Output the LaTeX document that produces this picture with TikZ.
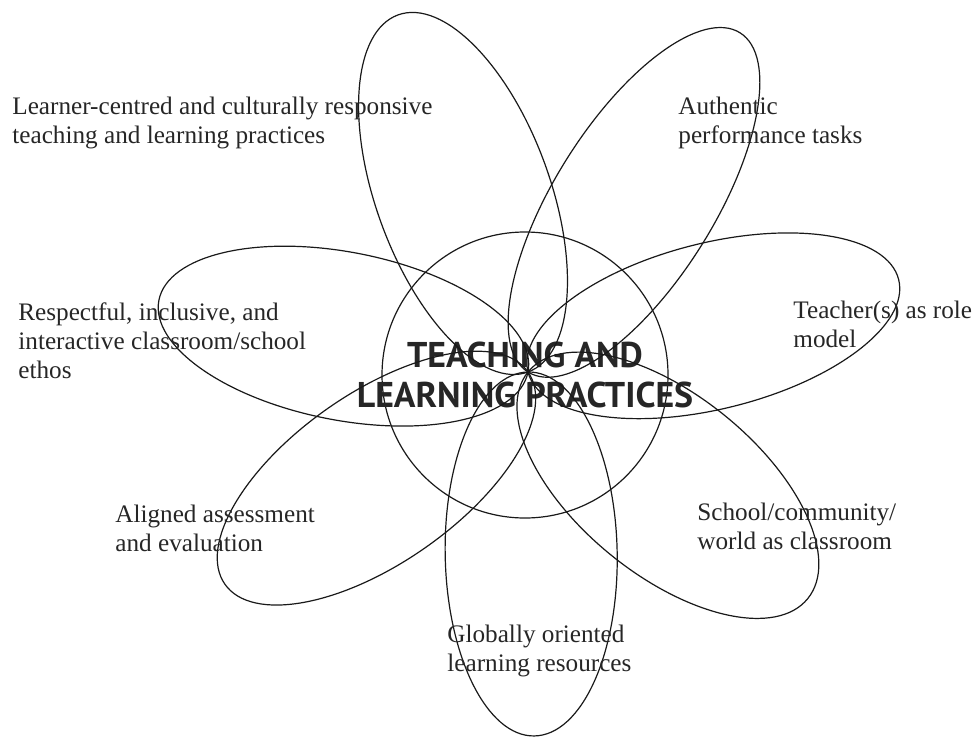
\documentclass[tikz,border=0pt]{standalone}
\usepackage{fontspec}
\setmainfont{Liberation Serif}
\newfontfamily\hubfont{PT Sans}
\usepackage{tikz}

\tikzset{
  petal/.style={draw=black!90, line width=.6pt},
  label/.style={anchor=base west, inner sep=0pt, align=left,
    text=black!85, font=\fontsize{12.6}{14.5}\selectfont},
}

\begin{document}
\begin{tikzpicture}[x=.5pt,y=.5pt]
\useasboundingbox (0,0) rectangle (972,740);
% where the petals meet
\coordinate (tip) at (528,368);
% centre circle and the title on it
\node [circle, petal, minimum size=143pt, inner sep=0pt] (hub) at (525,365) {};
\node [align=center, inner sep=0pt, text=black!85,
  font=\hubfont\bfseries\fontsize{17.9}{20}\selectfont]
  (title) at (hub.center) {TEACHING AND\\LEARNING PRACTICES};
% petals: direction / half length / half width
\foreach \ang/\len/\wid in {110/190/87, 58/200/80, 14/191/83, -39/180/90,
  -89/182/86, -145/185/85, 169/188/84}
  \draw [petal] (tip) ++(\ang:\len) circle [x radius=\len, y radius=\wid, rotate=\ang];
% petal labels (placed at the baseline of their last line)
\node [label] (learner) at (12,596) {Learner-centred and culturally responsive\\teaching and learning practices};
\node [label] (authentic) at (678,596) {Authentic\\performance tasks};
\node [label] (ethos) at (18,362) {Respectful, inclusive, and\\interactive classroom/school\\ethos};
\node [label] (rolemodel) at (793,393) {Teacher(s) as role\\model};
\node [label] (assess) at (115,189) {Aligned assessment\\and evaluation};
\node [label] (world) at (697,191) {School/community/\\world as classroom};
\node [label] (resources) at (447,69) {Globally oriented\\learning resources};
\end{tikzpicture}
\end{document}
